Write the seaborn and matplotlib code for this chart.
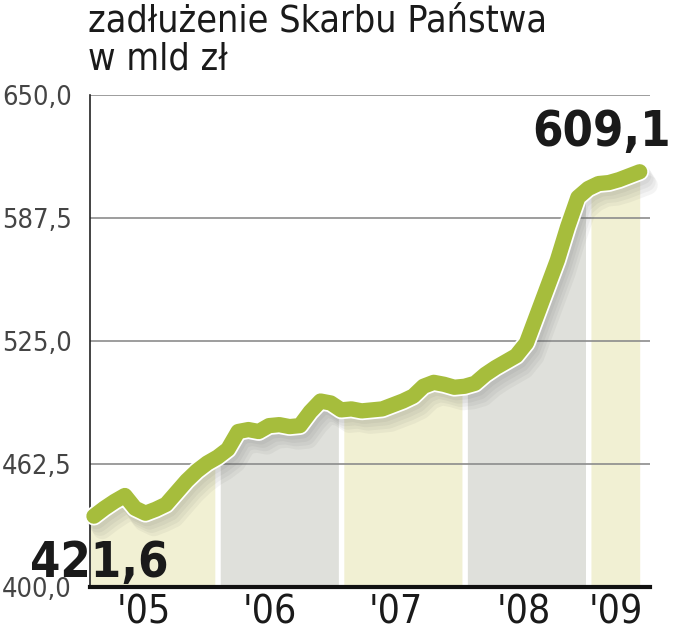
import matplotlib
matplotlib.use("Agg")
import matplotlib.pyplot as plt
import matplotlib.patheffects as pe
from matplotlib.transforms import ScaledTranslation
import numpy as np
import pandas as pd
import seaborn as sns

TITLE = "zadłużenie Skarbu Państwa\nw mld zł"
START_LABEL = "421,6"
END_LABEL = "609,1"

# month-end values, Dec 2004 .. May 2009 (bn zl)
debt = [
    436, 440, 443.5, 446.5, 440, 437.5, 439.5, 442, 448, 454, 459, 463, 466,
    470, 479, 480, 479, 482, 482.5, 481.5, 482, 489, 494.5, 493.5, 490,
    490.5, 489.5, 490, 490.5, 492.5, 494.5, 497, 502, 504, 503, 501.5, 502,
    503.5, 508, 511.5, 514.5, 517.5, 524, 538, 552, 566, 583, 598, 602.5,
    605, 605.5, 607, 609, 611,
]
years = [2005, 2006, 2007, 2008, 2009]
year_labels = ["'05", "'06", "'07", "'08", "'09"]
label_pos = [2005.40, 2006.42, 2007.44, 2008.48, 2009.22]
y_ticks = [400.0, 462.5, 525.0, 587.5, 650.0]
y_tick_labels = ["400,0", "462,5", "525,0", "587,5", "650,0"]

LINE_GREEN = "#a6bd3c"
BAND_COLORS = ["#f1f0d3", "#dfe0db"]
NARROW = "condensed"

sns.set_theme(style="white")
plt.rcParams["font.family"] = ["DejaVu Sans"]


def main() -> None:
    months = pd.date_range("2004-12-31", periods=len(debt), freq="ME")
    t = months.year + months.month / 12.0
    df = pd.DataFrame({"t": t, "debt": debt})
    t_end = df.t.iloc[-1]

    fig = plt.figure(figsize=(6.8, 6.4), dpi=100)
    ax = fig.add_axes([90 / 680, 53 / 640, 560 / 680, 492 / 640])
    x_min, x_max = 2004.968, 2009.5
    ax.set_xlim(x_min, x_max)
    ax.set_ylim(400, 650)

    # alternating year bands under the line, white gaps between years
    gap = 0.022
    for i, yr in enumerate(years):
        lo = x_min if i == 0 else yr + gap
        hi = min(yr + 1 - gap, t_end)
        xs = np.linspace(lo, hi, 300)
        ys = np.interp(xs, df.t, df.debt)
        ax.fill_between(xs, 400, ys, color=BAND_COLORS[i % 2], lw=0,
                        zorder=0.1)

    sns.lineplot(data=df, x="t", y="debt", ax=ax, color=LINE_GREEN,
                 linewidth=11, solid_capstyle="round",
                 solid_joinstyle="round", zorder=3, clip_on=False)
    line = ax.lines[-1]
    shadows = [
        pe.SimpleLineShadow(offset=(o, -1.6 * o), shadow_color="0.3",
                            alpha=0.06, linewidth=14)
        for o in (1.5, 3, 4.5, 6)
    ]
    line.set_path_effects(shadows + [
        pe.Stroke(linewidth=13.5, foreground="white"),
        pe.Normal(),
    ])

    ax.set_axisbelow(True)
    ax.yaxis.grid(True, color="#8c8c8c", linewidth=1.2)
    ax.xaxis.grid(False)
    for s in ["top", "right"]:
        ax.spines[s].set_visible(False)
    ax.spines["left"].set_color("#222222")
    ax.spines["left"].set_linewidth(1.2)
    ax.spines["bottom"].set_color("#111111")
    ax.spines["bottom"].set_linewidth(3)

    ax.set_yticks(y_ticks)
    ax.set_yticklabels(y_tick_labels, fontsize=19.5, color="#444444",
                       fontstretch=NARROW)
    shift = ScaledTranslation(0, -7 / 72, fig.dpi_scale_trans)
    for lab in ax.get_yticklabels():
        lab.set_transform(lab.get_transform() + shift)
    ax.set_xticks(label_pos)
    ax.set_xticklabels(year_labels, fontsize=28, color="#1a1a1a",
                       fontstretch=NARROW)
    ax.tick_params(axis="y", length=0, pad=13)
    ax.tick_params(axis="x", length=0, pad=5)
    ax.set_xlabel("")
    ax.set_ylabel("")

    fig.text(88 / 680, 1 - 4 / 640, TITLE, ha="left", va="top", fontsize=27,
             color="#1a1a1a", linespacing=1.05, fontstretch=NARROW)
    fig.text(30 / 680, 1 - 577 / 640, START_LABEL, ha="left", va="baseline",
             fontsize=35, fontweight="bold", color="#1a1a1a",
             fontstretch=NARROW)
    fig.text(671 / 680, 1 - 146 / 640, END_LABEL, ha="right", va="baseline",
             fontsize=35, fontweight="bold", color="#1a1a1a",
             fontstretch=NARROW)

    fig.savefig("out.png", dpi=100)
    plt.close(fig)


if __name__ == "__main__":
    main()
